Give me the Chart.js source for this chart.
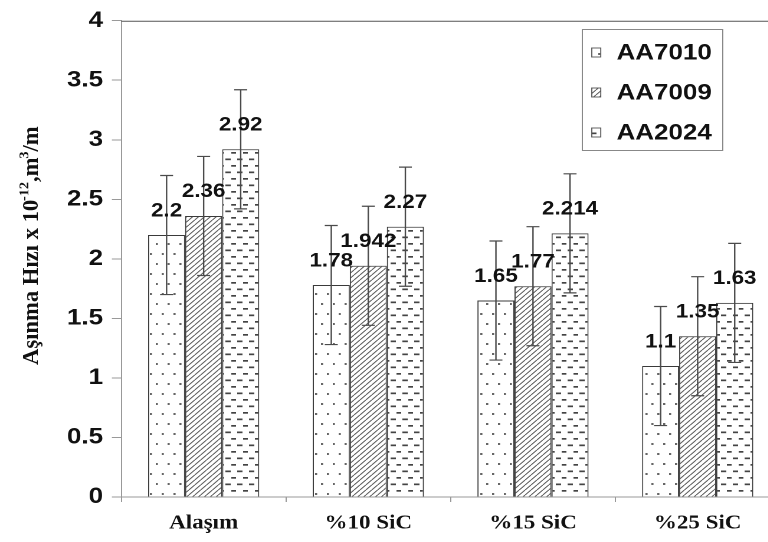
<!DOCTYPE html>
<html>
<head>
<meta charset="utf-8">
<script src="https://cdn.jsdelivr.net/npm/chart.js@4.4.1/dist/chart.umd.min.js"></script>
<style>
  html, body { margin: 0; padding: 0; background: #fff; overflow: hidden; }
  #frame { width: 768px; height: 542px; overflow: hidden; position: relative; }
  /* the chart is laid out narrow and widened horizontally */
  #stage { position: absolute; left: 0; top: 0; width: 661px; height: 542px;
           transform: scaleX(1.18); transform-origin: 0 0; }
</style>
</head>
<body>
<div id="frame"><div id="stage"><canvas id="c"></canvas></div></div>
<script>
// ---- data ----
const categories = ['Alaşım', '%10 SiC', '%15 SiC', '%25 SiC'];
const seriesNames = ['AA7010', 'AA7009', 'AA2024'];
const aa7010 = [2.2, 1.78, 1.65, 1.1];
const aa7009 = [2.36, 1.942, 1.77, 1.35];
const aa2024 = [2.92, 2.27, 2.214, 1.63];
const err7010 = [0.5, 0.5, 0.5, 0.5];
const err7009 = [0.5, 0.5, 0.5, 0.5];
const err2024 = [0.5, 0.5, 0.5, 0.5];
const yTickValues = [0, 0.5, 1, 1.5, 2, 2.5, 3, 3.5, 4];
const yTitleParts = [
  { text: 'Aşınma Hızı x 10', sup: false },
  { text: '-12', sup: true },
  { text: ',m', sup: false },
  { text: '3', sup: true },
  { text: '/m', sup: false }
];

// ---- fill patterns ----
const R = 2;
function tile(w, h, draw) {
  const c = document.createElement('canvas');
  c.width = Math.round(w * R); c.height = Math.round(h * R);
  const g = c.getContext('2d');
  g.fillStyle = '#fff'; g.fillRect(0, 0, c.width, c.height);
  g.scale(R, R);
  draw(g, w, h);
  const p = g.createPattern(c, 'repeat');
  p.setTransform(new DOMMatrix().scale(1 / R));
  return p;
}
const dotFill = tile(10, 20, (g) => {
  g.fillStyle = '#666';
  g.fillRect(2, 3, 1.8, 2);
  g.fillRect(7, 13, 1.8, 2);
});
const hatchFill = tile(5, 5, (g, w, h) => {
  g.strokeStyle = '#555'; g.lineWidth = 0.9;
  g.beginPath();
  for (const x0 of [-w, 0, w]) { g.moveTo(x0, h); g.lineTo(x0 + w, 0); }
  g.stroke();
});
const dashFill = tile(10, 13, (g) => {
  g.fillStyle = '#444';
  g.fillRect(1, 2.5, 4.5, 1.7);
  g.fillRect(6, 9, 4.5, 1.7);
});
const fills = [dotFill, hatchFill, dashFill];

const sansBold = '"Liberation Sans", Arial, sans-serif';
const serifBold = '"Liberation Serif", "Times New Roman", serif';

// ---- extra drawing: frame line, error bars, value labels, legend, axis title ----
const decor = {
  id: 'decor',
  afterDatasetsDraw(chart) {
    const { ctx, chartArea: a, scales: { y } } = chart;
    ctx.save();
    // top frame line
    ctx.strokeStyle = '#555'; ctx.lineWidth = 1;
    ctx.beginPath(); ctx.moveTo(a.left, a.top + 0.5); ctx.lineTo(a.right, a.top + 0.5); ctx.stroke();

    chart.data.datasets.forEach((ds, i) => {
      const meta = chart.getDatasetMeta(i);
      meta.data.forEach((bar, j) => {
        const v = ds.data[j], e = ds.errors[j];
        const yt = y.getPixelForValue(v + e), yb = y.getPixelForValue(v - e);
        // error bar
        ctx.strokeStyle = '#4a4a4a'; ctx.lineWidth = 1.2;
        ctx.beginPath();
        ctx.moveTo(bar.x, yt); ctx.lineTo(bar.x, yb);
        ctx.moveTo(bar.x - 5.5, yt); ctx.lineTo(bar.x + 5.5, yt);
        ctx.moveTo(bar.x - 5.5, yb); ctx.lineTo(bar.x + 5.5, yb);
        ctx.stroke();
        // value label
        ctx.fillStyle = '#111';
        ctx.font = 'bold 19px ' + sansBold;
        ctx.textAlign = 'center'; ctx.textBaseline = 'middle';
        ctx.fillText(String(v), bar.x, bar.y - 24);
      });
    });

    // legend
    const bx = 493.5, by = 29.5, bw = 119, bh = 121;
    ctx.fillStyle = '#fff'; ctx.fillRect(bx, by, bw, bh);
    ctx.strokeStyle = '#888'; ctx.lineWidth = 1; ctx.strokeRect(bx, by, bw, bh);
    chart.data.datasets.forEach((ds, i) => {
      const cy = 52.5 + i * 40;
      ctx.fillStyle = ds.backgroundColor;
      ctx.fillRect(501.5, cy - 4.5, 7.6, 9);
      ctx.strokeStyle = '#555'; ctx.lineWidth = 0.9;
      ctx.strokeRect(501.5, cy - 4.5, 7.6, 9);
      ctx.fillStyle = '#111';
      ctx.font = 'bold 22px ' + sansBold;
      ctx.textAlign = 'left'; ctx.textBaseline = 'middle';
      ctx.fillText(ds.label, 522.5, cy + 1);
    });

    // rotated y axis title with superscripts
    ctx.translate(32.2, 365);
    ctx.rotate(-Math.PI / 2);
    ctx.scale(1.19, 1);
    ctx.fillStyle = '#111';
    ctx.textAlign = 'left'; ctx.textBaseline = 'alphabetic';
    let x = 0;
    yTitleParts.forEach(p => {
      ctx.font = (p.sup ? 'bold 12px ' : 'bold 19px ') + serifBold;
      ctx.fillText(p.text, x, p.sup ? -8 : 0);
      x += ctx.measureText(p.text).width - (p.sup ? 0 : 1);
    });
    ctx.restore();
  }
};

new Chart(document.getElementById('c'), {
  type: 'bar',
  data: {
    labels: categories,
    datasets: [
      { label: seriesNames[0], data: aa7010, errors: err7010, backgroundColor: fills[0] },
      { label: seriesNames[1], data: aa7009, errors: err7009, backgroundColor: fills[1] },
      { label: seriesNames[2], data: aa2024, errors: err2024, backgroundColor: fills[2] }
    ]
  },
  options: {
    responsive: true,
    maintainAspectRatio: false,
    animation: false,
    devicePixelRatio: 2,
    layout: { padding: { top: 16, right: 0, bottom: 0, left: 0 } },
    datasets: {
      bar: { categoryPercentage: 0.675, barPercentage: 1, borderColor: '#3a3a3a', borderWidth: 1 }
    },
    plugins: { legend: { display: false }, tooltip: { enabled: false } },
    scales: {
      x: {
        offset: true,
        grid: { offset: true, drawOnChartArea: false, drawTicks: true, tickLength: 5, color: '#999' },
        border: { color: '#999' },
        ticks: { color: '#111', padding: 10, maxRotation: 0,
                 font: { family: serifBold, size: 19.5, weight: 'bold' } },
        afterFit(s) { s.height = 45; }
      },
      y: {
        min: 0, max: 4,
        afterBuildTicks(s) { s.ticks = yTickValues.map(v => ({ value: v })); },
        grid: { drawOnChartArea: false, tickLength: 8, color: '#999' },
        border: { color: '#999' },
        ticks: { color: '#111', padding: 7.5, callback: v => String(v),
                 font: { family: sansBold, size: 22, weight: 'bold' } },
        afterFit(s) { s.width = 102.8; }
      }
    }
  },
  plugins: [decor]
});
</script>
</body>
</html>
